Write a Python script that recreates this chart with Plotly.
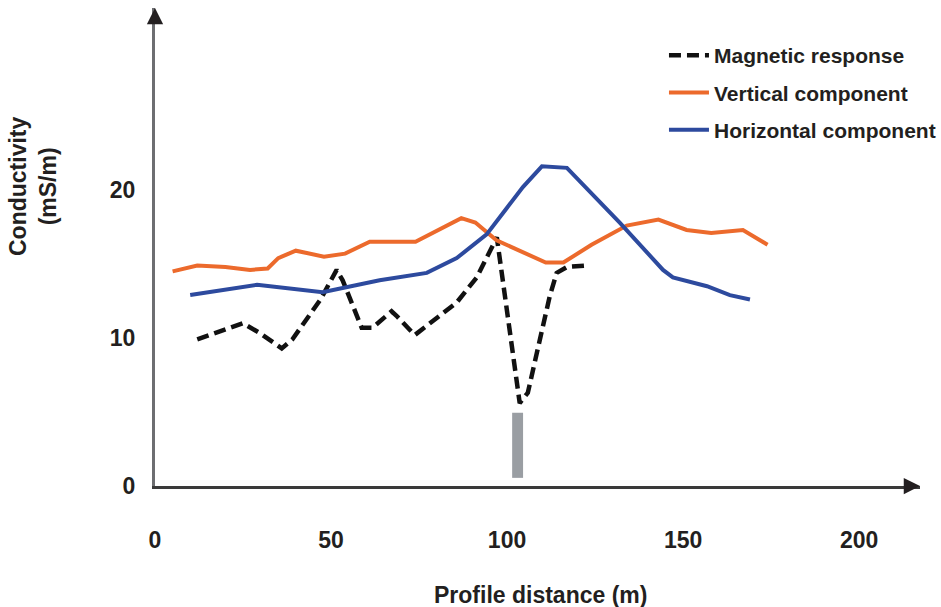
import plotly.graph_objects as go

# Profile positions (m) and conductivity readings (mS/m)
mag_x = [12, 25, 30, 36, 39, 47, 51.6, 53.3, 58.7, 61.8, 67.2, 68.6, 73.8, 78, 85.7,
         91.4, 97.1, 103.6, 105.9, 112.1, 114.1, 117, 122.7]
mag_y = [9.9, 11.0, 10.3, 9.3, 9.9, 12.6, 14.6, 13.9, 10.7, 10.7, 11.8, 11.5, 10.2, 11.0, 12.4,
         14.1, 16.8, 5.6, 6.3, 12.8, 14.4, 14.8, 14.9]

vert_x = [5, 12, 20, 27, 32, 35, 40, 48, 54, 61, 74, 87, 91, 97, 111, 116, 124, 134, 143,
          151, 158, 167, 174]
vert_y = [14.5, 14.9, 14.8, 14.6, 14.7, 15.4, 15.9, 15.5, 15.7, 16.5, 16.5, 18.1, 17.8, 16.6,
          15.1, 15.1, 16.3, 17.6, 18.0, 17.3, 17.1, 17.3, 16.3]

horz_x = [10, 29, 47.6, 63.8, 77.2, 85.7, 94.2, 104.5, 109.9, 117, 132, 144.3, 147.1, 156.8,
          163.3, 169]
horz_y = [12.9, 13.6, 13.1, 13.9, 14.4, 15.4, 17.0, 20.2, 21.6, 21.5, 17.8, 14.6, 14.1, 13.5,
          12.9, 12.6]

# Location marker below the magnetic low
anomaly_x = [103]
anomaly_base = [0.55]
anomaly_top = [4.95]

x_ticks = [0, 50, 100, 150, 200]
y_ticks = [0, 10, 20]

X_MAX = 217.3
Y_MAX = 32.3

TEXT = "#231f20"
FONT = "Liberation Sans, Arial, sans-serif"

fig = go.Figure()

fig.add_trace(go.Bar(
    x=anomaly_x, base=anomaly_base,
    y=[t - b for t, b in zip(anomaly_top, anomaly_base)],
    width=3.1, marker=dict(color="#9a9ea3", line=dict(width=0)),
    showlegend=False, hoverinfo="skip",
))

fig.add_trace(go.Scatter(
    x=mag_x, y=mag_y, mode="lines", name="Magnetic response",
    line=dict(color="#111111", width=4.5, dash="12px,6px"),
    legendgroup="a",
))
fig.add_trace(go.Scatter(
    x=vert_x, y=vert_y, mode="lines", name="Vertical component",
    line=dict(color="#ec6a2c", width=4),
    legendgroup="b",
))
fig.add_trace(go.Scatter(
    x=horz_x, y=horz_y, mode="lines", name="Horizontal component",
    line=dict(color="#2d4a9e", width=4),
    legendgroup="c",
))

fig.update_layout(
    width=941, height=607,
    margin=dict(l=155, r=21, t=8, b=121, autoexpand=False),
    paper_bgcolor="white", plot_bgcolor="white",
    font=dict(family=FONT, color=TEXT, weight="bold"),
    showlegend=True,
    legend=dict(
        xref="container", yref="container",
        x=0.7056, y=0.9423, xanchor="left", yanchor="top",
        font=dict(family=FONT, size=21, color=TEXT, weight="bold"),
        bgcolor="rgba(0,0,0,0)", tracegroupgap=7, itemwidth=40,
    ),
    xaxis=dict(
        range=[0, X_MAX], tickvals=x_ticks, ticks="", showgrid=False, zeroline=False,
        showline=True, linecolor="#3a3a3a", linewidth=2.5,
        tickfont=dict(family=FONT, size=23, color=TEXT, weight="bold"),
        ticklabelstandoff=32,
    ),
    yaxis=dict(
        range=[0, Y_MAX], tickvals=y_ticks, ticks="", showgrid=False, zeroline=False,
        showline=True, linecolor="#6d6e71", linewidth=3,
        tickfont=dict(family=FONT, size=23, color=TEXT, weight="bold"),
        ticklabelstandoff=12,
    ),
    annotations=[
        # axis arrowheads
        dict(x=0, y=Y_MAX, xref="x", yref="y", ax=0, ay=16, text="", showarrow=True,
             arrowhead=2, arrowsize=1.3, arrowwidth=2.5, arrowcolor="#231f20"),
        dict(x=X_MAX, y=0, xref="x", yref="y", ax=-16, ay=0, text="", showarrow=True,
             arrowhead=2, arrowsize=1.3, arrowwidth=2.5, arrowcolor="#231f20"),
        # axis titles
        dict(x=0.5035, y=-0.228, xref="paper", yref="paper", text="Profile distance (m)",
             showarrow=False, xanchor="center", yanchor="middle",
             font=dict(family=FONT, size=23, color=TEXT, weight="bold")),
        dict(x=-0.1595, y=0.6276, xref="paper", yref="paper", text="Conductivity<br>(mS/m)",
             showarrow=False, xanchor="center", yanchor="middle", textangle=-90,
             font=dict(family=FONT, size=23, color=TEXT, weight="bold")),
    ],
)

fig.write_html("out.html")
